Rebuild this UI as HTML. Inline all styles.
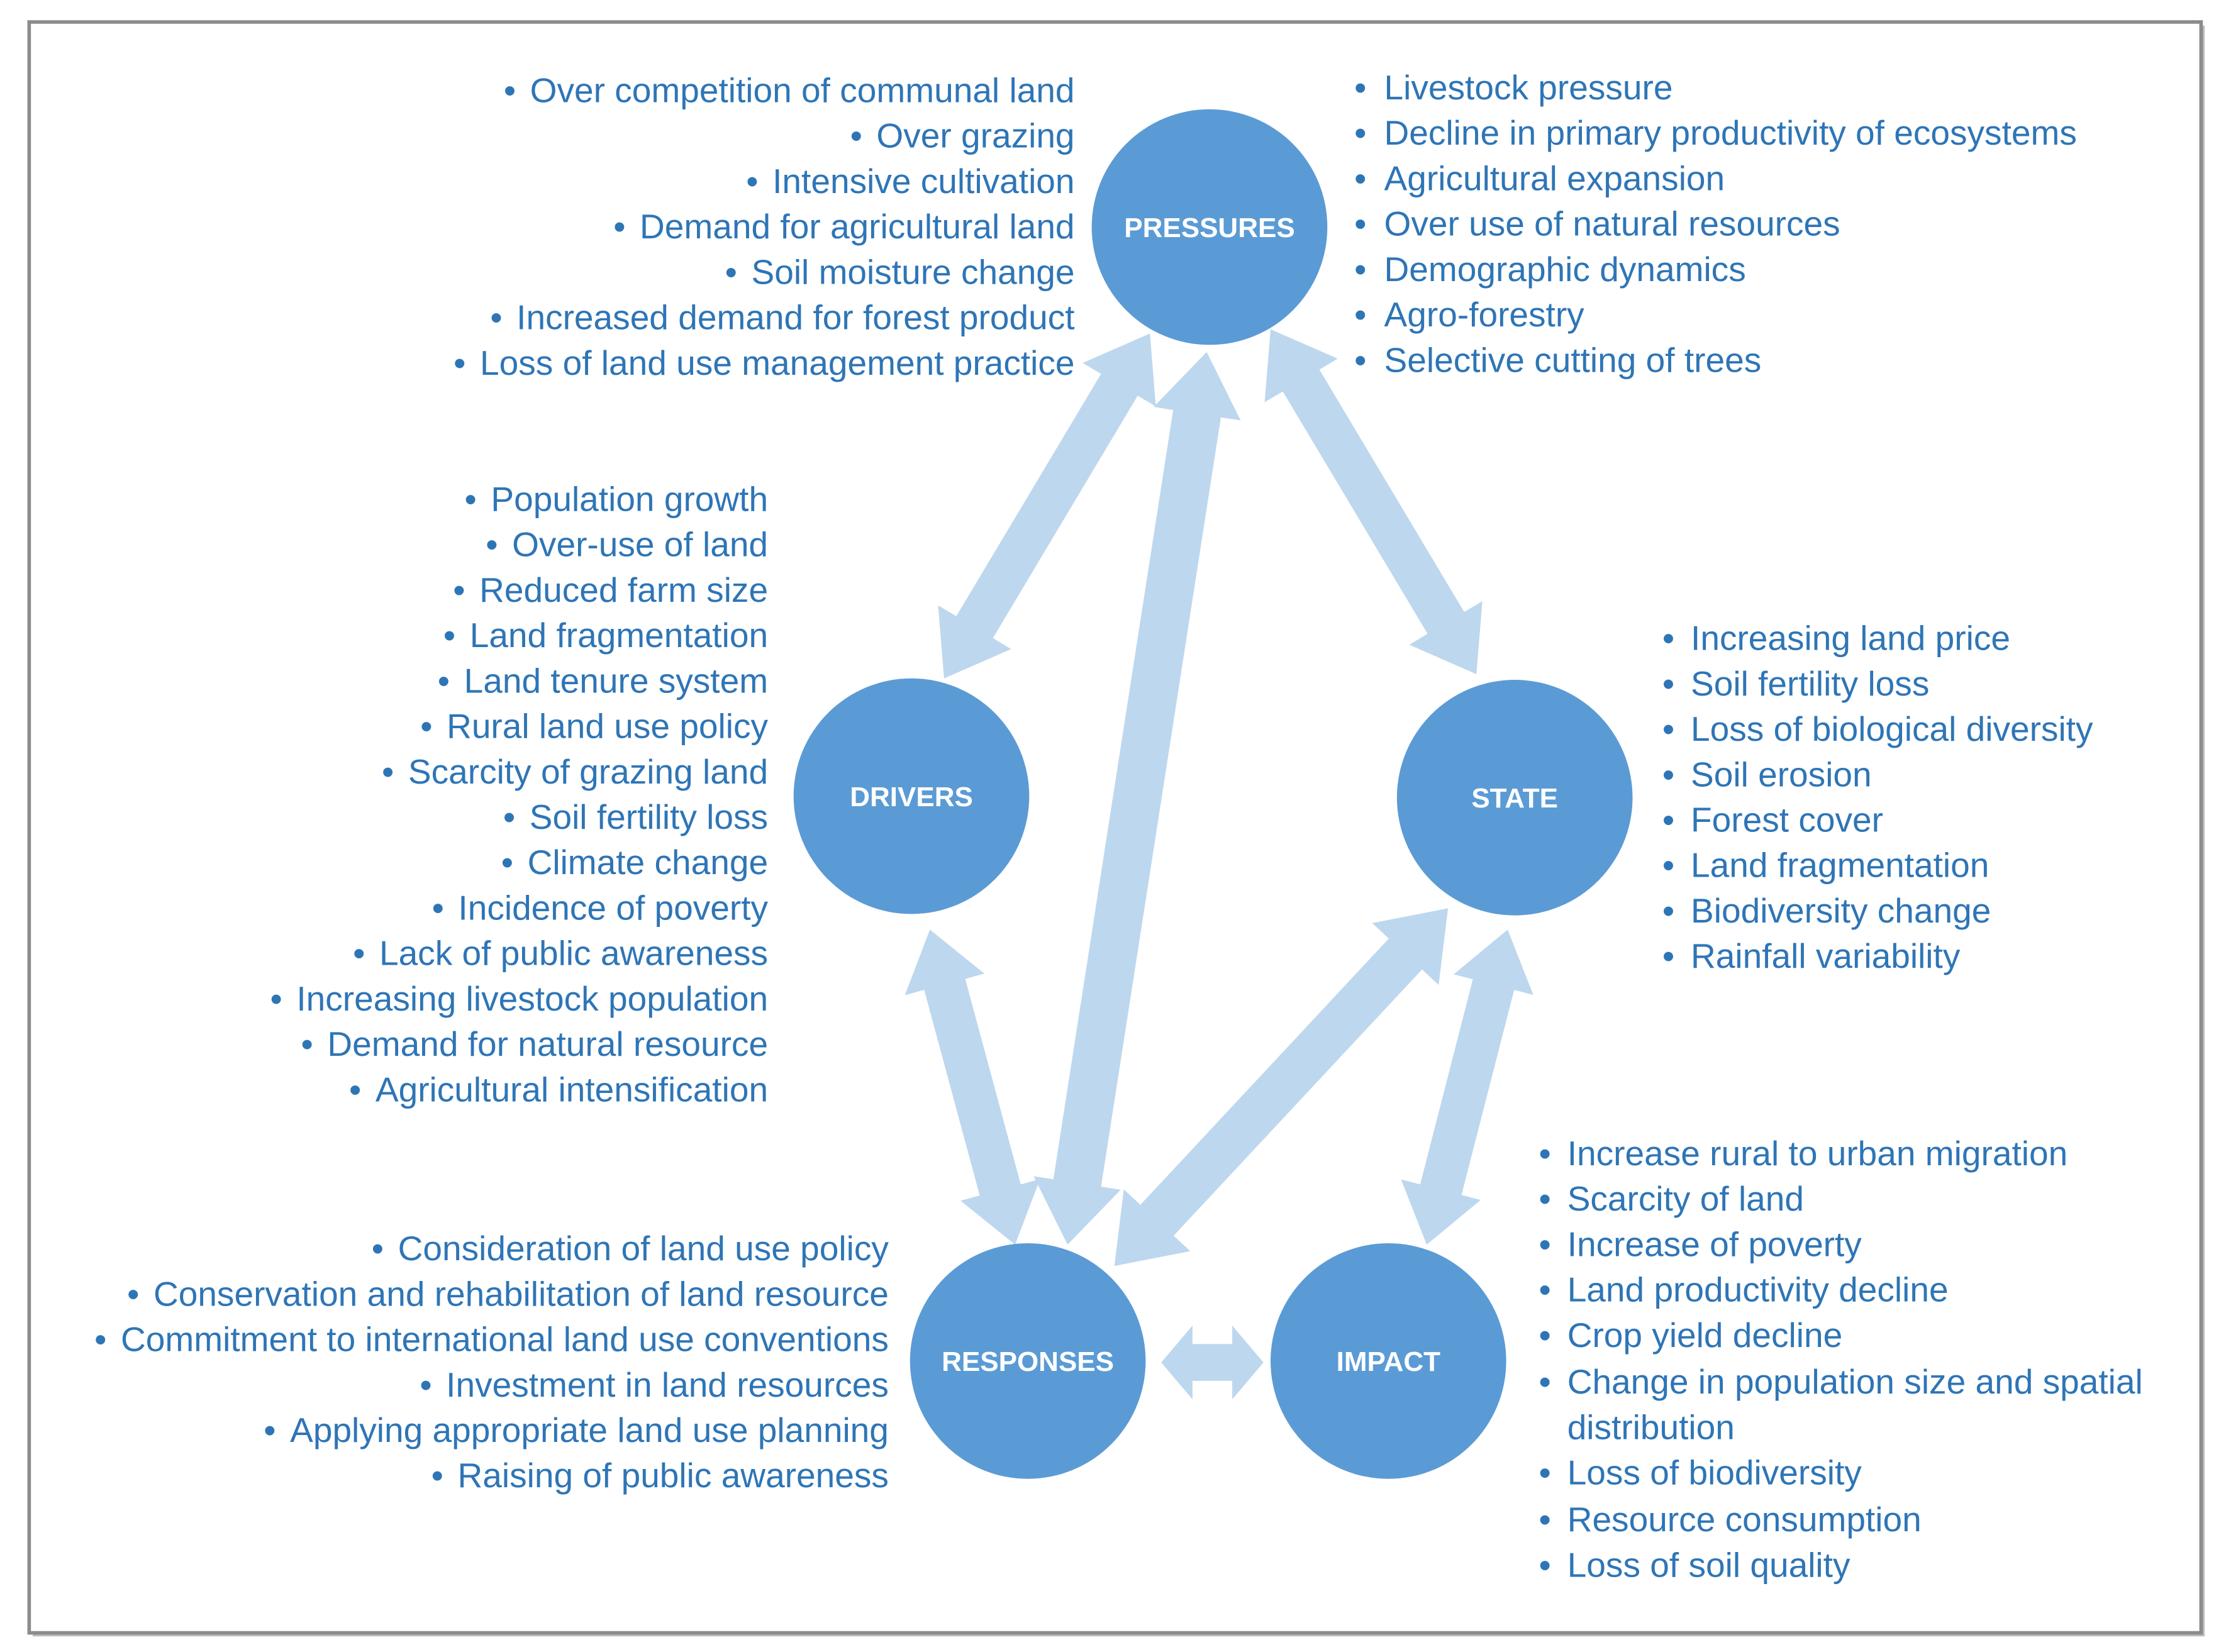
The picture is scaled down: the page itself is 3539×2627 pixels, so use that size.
<!DOCTYPE html>
<html><head><meta charset="utf-8"><style>
html,body{margin:0;padding:0;background:#fff;}
svg{display:block;}
text{font-family:"Liberation Sans",sans-serif;}
.t{font-size:24.4px;fill:#2e75b6;}
.c{font-size:19.5px;font-weight:bold;fill:#fff;}
</style></head><body>
<svg id="s" width="3539" height="2627" viewBox="0 0 1568 1164" xmlns="http://www.w3.org/2000/svg">
<rect x="0" y="0" width="1568" height="1164" fill="#fff"/>
<rect x="23" y="18" width="1530" height="1135" fill="#bbb"/>
<rect x="20.5" y="15.5" width="1530" height="1135" fill="#fff" stroke="#8c8c8c" stroke-width="2.5"/>
<g id="arrows" fill="#bdd7ee"></g>
<g fill="#5b9bd5">
<circle cx="852" cy="160" r="83"/>
<circle cx="642" cy="561" r="83"/>
<circle cx="1067" cy="562" r="83"/>
<circle cx="724" cy="959" r="83"/>
<circle cx="978" cy="959" r="83"/>
</g>
<g class="c" text-anchor="middle">
<text x="852" y="167">PRESSURES</text>
<text x="642" y="568">DRIVERS</text>
<text x="1067" y="569">STATE</text>
<text x="724" y="966">RESPONSES</text>
<text x="978" y="966">IMPACT</text>
</g>
<g class="t" text-anchor="end">
<text x="757" y="72">•<tspan dx="10">Over competition of communal land</tspan></text>
<text x="757" y="104">•<tspan dx="10">Over grazing</tspan></text>
<text x="757" y="136">•<tspan dx="10">Intensive cultivation</tspan></text>
<text x="757" y="168">•<tspan dx="10">Demand for agricultural land</tspan></text>
<text x="757" y="200">•<tspan dx="10">Soil moisture change</tspan></text>
<text x="757" y="232">•<tspan dx="10">Increased demand for forest product</tspan></text>
<text x="757" y="264">•<tspan dx="10">Loss of land use management practice</tspan></text>

<text x="541" y="360">•<tspan dx="10">Population growth</tspan></text>
<text x="541" y="392">•<tspan dx="10">Over-use of land</tspan></text>
<text x="541" y="424">•<tspan dx="10">Reduced farm size</tspan></text>
<text x="541" y="456">•<tspan dx="10">Land fragmentation</tspan></text>
<text x="541" y="488">•<tspan dx="10">Land tenure system</tspan></text>
<text x="541" y="520">•<tspan dx="10">Rural land use policy</tspan></text>
<text x="541" y="552">•<tspan dx="10">Scarcity of grazing land</tspan></text>
<text x="541" y="584">•<tspan dx="10">Soil fertility loss</tspan></text>
<text x="541" y="616">•<tspan dx="10">Climate change</tspan></text>
<text x="541" y="648">•<tspan dx="10">Incidence of poverty</tspan></text>
<text x="541" y="680">•<tspan dx="10">Lack of public awareness</tspan></text>
<text x="541" y="712">•<tspan dx="10">Increasing livestock population</tspan></text>
<text x="541" y="744">•<tspan dx="10">Demand for natural resource</tspan></text>
<text x="541" y="776">•<tspan dx="10">Agricultural intensification</tspan></text>

<text x="626" y="888">•<tspan dx="10">Consideration of land use policy</tspan></text>
<text x="626" y="920">•<tspan dx="10">Conservation and rehabilitation of land resource</tspan></text>
<text x="626" y="952">•<tspan dx="10">Commitment to international land use conventions</tspan></text>
<text x="626" y="984">•<tspan dx="10">Investment in land resources</tspan></text>
<text x="626" y="1016">•<tspan dx="10">Applying appropriate land use planning</tspan></text>
<text x="626" y="1048">•<tspan dx="10">Raising of public awareness</tspan></text>
</g>
<g class="t">
<text x="954" y="70">•<tspan x="975">Livestock pressure</tspan></text>
<text x="954" y="102">•<tspan x="975">Decline in primary productivity of ecosystems</tspan></text>
<text x="954" y="134">•<tspan x="975">Agricultural expansion</tspan></text>
<text x="954" y="166">•<tspan x="975">Over use of natural resources</tspan></text>
<text x="954" y="198">•<tspan x="975">Demographic dynamics</tspan></text>
<text x="954" y="230">•<tspan x="975">Agro-forestry</tspan></text>
<text x="954" y="262">•<tspan x="975">Selective cutting of trees</tspan></text>

<text x="1171" y="458">•<tspan x="1191">Increasing land price</tspan></text>
<text x="1171" y="490">•<tspan x="1191">Soil fertility loss</tspan></text>
<text x="1171" y="522">•<tspan x="1191">Loss of biological diversity</tspan></text>
<text x="1171" y="554">•<tspan x="1191">Soil erosion</tspan></text>
<text x="1171" y="586">•<tspan x="1191">Forest cover</tspan></text>
<text x="1171" y="618">•<tspan x="1191">Land fragmentation</tspan></text>
<text x="1171" y="650">•<tspan x="1191">Biodiversity change</tspan></text>
<text x="1171" y="682">•<tspan x="1191">Rainfall variability</tspan></text>

<text x="1084" y="821">•<tspan x="1104">Increase rural to urban migration</tspan></text>
<text x="1084" y="853">•<tspan x="1104">Scarcity of land</tspan></text>
<text x="1084" y="885">•<tspan x="1104">Increase of poverty</tspan></text>
<text x="1084" y="917">•<tspan x="1104">Land productivity decline</tspan></text>
<text x="1084" y="949">•<tspan x="1104">Crop yield decline</tspan></text>
<text x="1084" y="982">•<tspan x="1104">Change in population size and spatial</tspan></text>
<text x="1104" y="1014">distribution</text>
<text x="1084" y="1046">•<tspan x="1104">Loss of biodiversity</tspan></text>
<text x="1084" y="1079">•<tspan x="1104">Resource consumption</tspan></text>
<text x="1084" y="1111">•<tspan x="1104">Loss of soil quality</tspan></text>
</g>
</svg>
<script>
function arr(x1,y1,x2,y2,w,hw,hl){
  var dx=x2-x1,dy=y2-y1,L=Math.hypot(dx,dy),ux=dx/L,uy=dy/L,nx=-uy,ny=ux;
  function p(t,o){return (x1+ux*t+nx*o).toFixed(1)+","+(y1+uy*t+ny*o).toFixed(1);}
  var pts=[p(0,0),p(hl,hw/2),p(hl,w/2),p(L-hl,w/2),p(L-hl,hw/2),p(L,0),p(L-hl,-hw/2),p(L-hl,-w/2),p(hl,-w/2),p(hl,-hw/2)];
  var e=document.createElementNS("http://www.w3.org/2000/svg","polygon");
  e.setAttribute("points",pts.join(" "));
  document.getElementById("arrows").appendChild(e);
}
arr(810,235,665,478,30,60,42);
arr(850,248,752,877,34,62,44);
arr(895,232,1040,475,30,60,42);
arr(655,655,715,877,30,58,40);
arr(1020,640,785,892,32,64,44);
arr(1062,655,1005,877,30,58,40);
arr(818,960,890,960,26,52,22);
</script>
</body></html>
